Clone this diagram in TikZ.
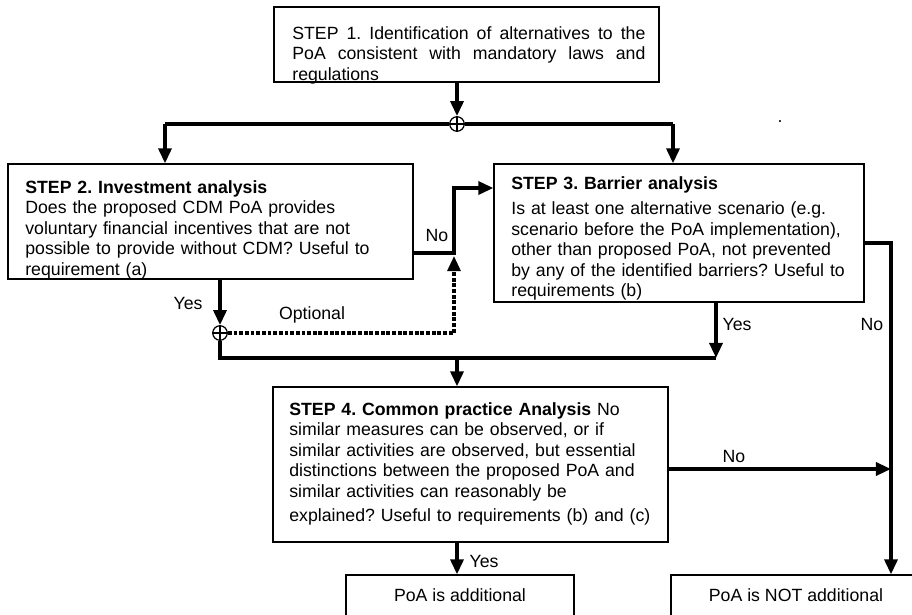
\documentclass[tikz,border=0pt]{standalone}
\usepackage{fontspec}
\setmainfont{Liberation Sans}
\usetikzlibrary{arrows.meta,fit}
\frenchspacing

\begin{document}
\begin{tikzpicture}[x=0.565pt,y=-0.565pt,>={Triangle[length=8.5pt,width=7.3pt]},
  box/.style={draw,line width=0.7pt,inner sep=0pt},
  boxtext/.style={anchor=north west,inner sep=0pt,align=left,
    font=\fontsize{10}{11.6}\selectfont},
  lbl/.style={inner sep=0pt,font=\fontsize{10}{12}\selectfont},
  flow/.style={line width=2pt},
  optflow/.style={line width=1.8pt,dash pattern=on 2.2pt off 1pt},
  junction/.style={circle,draw,fill=white,line width=0.7pt,
    minimum size=8.2pt,inner sep=0pt}]
  % page: 912 x 614 px, one unit = one px, y runs downwards
  \useasboundingbox (0,0) rectangle (912,614);
  \clip (0,0) rectangle (912,614);

  % boxes
  \node[box,fit={(274,7) (659,82)}]    (s1) {};
  \node[box,fit={(8,164) (413,279)}]   (s2) {};
  \node[box,fit={(494,164) (864,302)}] (s3) {};
  \node[box,fit={(273,387) (668,542)}] (s4) {};
  \node[box,fit={(346,575) (574,650)}] (add) {};
  \node[box,fit={(671,575) (940,650)}] (nota) {};

  % box texts
  \node[boxtext,text width=199.5pt,align=justify] (s1txt) at (292,26)
    {STEP 1. Identification of alternatives to the\linebreak
     PoA consistent with mandatory laws and\linebreak regulations};
  \node[boxtext,text width=220pt] (s2txt) at (25,180)
    {\textbf{STEP 2. Investment analysis}\\
     Does the proposed CDM PoA provides\\
     voluntary financial incentives that are not\\
     possible to provide without CDM? Useful to\\
     requirement (a)};
  \node[boxtext,text width=200pt] (s3txt) at (511,176)
    {\textbf{STEP 3. Barrier analysis}\\[2.8pt]
     Is at least one alternative scenario (e.g.\\
     scenario before the PoA implementation),\\
     other than proposed PoA, not prevented\\
     by any of the identified barriers? Useful to\\
     requirements (b)};
  \node[boxtext,text width=215pt] (s4txt) at (289,402)
    {\textbf{STEP 4. Common practice Analysis} No\\
     similar measures can be observed, or if\\
     similar activities are observed, but essential\\
     distinctions between the proposed PoA and\\
     similar activities can reasonably be\\[2.3pt]
     explained? Useful to requirements (b) and (c)};
  \node[lbl] (addtxt)  at (460,595) {PoA is additional};
  \node[lbl] (notatxt) at (796,595) {PoA is NOT additional};

  % junctions
  \node[junction] (j1) at (457,124) {};
  \node[junction] (j2) at (220,333) {};
  \draw[line width=0.7pt] (j1.north) -- (j1.south) (j1.west) -- (j1.east);
  \draw[line width=0.7pt] (j2.north) -- (j2.south) (j2.west) -- (j2.east);

  \coordinate (split2) at (165,124);
  \coordinate (split3) at (673,124);
  \coordinate (nobend) at (454,253);
  \coordinate (notop)  at (454,188);
  \coordinate (optend) at (454,256);
  \coordinate (mergeL) at (220,358);
  \coordinate (mergeR) at (716,358);
  \coordinate (down4)  at (457,358);
  \coordinate (s3out)  at (891,243);
  \coordinate (s4no)   at (891,469);

  % step 1 splits into steps 2 and 3
  \draw[flow,->] (j1 |- s1.south) -- (j1.north);
  \draw[flow] (split2) -- (j1.west) (j1.east) -- (split3);
  \draw[flow,->] (split2) -- (split2 |- s2.north);
  \draw[flow,->] (split3) -- (split3 |- s3.north);

  % step 2: no -> step 3, yes -> step 4, optional -> step 3
  \draw[flow,->] (s2.east |- nobend) -- (nobend) -- (notop) -- (notop -| s3.west);
  \draw[flow,->] (j2 |- s2.south) -- (j2.north);
  \draw[optflow,->] (j2.east) -| (optend);
  \draw[flow] (j2.south) -- (mergeL) -- (mergeR);

  % step 3: yes -> step 4, no -> not additional
  \draw[flow,->] (mergeR |- s3.south) -- (mergeR);
  \draw[flow,->] (s3.east |- s3out) -- (s3out) -- (s3out |- nota.north);
  \draw[flow,->] (down4) -- (down4 |- s4.north);

  % step 4
  \draw[flow,->] (s4.east |- s4no) -- (s4no);
  \draw[flow,->] (down4 |- s4.south) -- (down4 |- add.north);

  % labels
  \node[lbl] (no2)  at (437,235) {No};
  \node[lbl] (yes2) at (188,303) {Yes};
  \node[lbl] (opt)  at (312,315) {Optional};
  \node[lbl] (yes3) at (737,324) {Yes};
  \node[lbl] (no3)  at (872,324) {No};
  \node[lbl] (no4)  at (734,456) {No};
  \node[lbl] (yes4) at (484,561) {Yes};
  \node[lbl] (dot)  at (780,122) {.};
\end{tikzpicture}
\end{document}
